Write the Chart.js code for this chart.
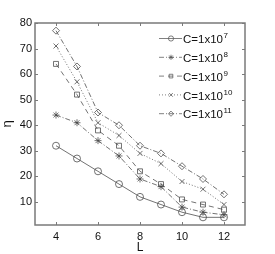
<!DOCTYPE html>
<html lang="en">
<head>
    <meta charset="UTF-8">
    <title>eta vs L</title>
    <script src="https://cdn.jsdelivr.net/npm/chart.js"></script>
    <style>
        html, body { margin: 0; padding: 0; background: #fff; }
        #wrap { width: 275px; height: 254px; }
    </style>
</head>
<body>
    <div id="wrap"><canvas id="myChart" width="275" height="254"></canvas></div>
    <script>
        // Données
        const L = [4, 5, 6, 7, 8, 9, 10, 11, 12];
        const c7  = [32, 27, 22, 17, 12, 9, 6, 4, 4];
        const c8  = [44, 41, 34, 28, 19, 16, 8, 6, 5];
        const c9  = [64, 52, 38, 32, 22, 17, 11, 9, 7];
        const c10 = [71, 57, 41, 36, 29, 25, 18, 15, 9];
        const c11 = [77, 63, 45, 40, 32, 29, 24, 19, 13];
        const exposants = ['7', '8', '9', '10', '11'];
        const xTicks = [4, 6, 8, 10, 12];
        const yTicks = [10, 20, 30, 40, 50, 60, 70, 80];

        const police = '"Liberation Sans", Arial, sans-serif';
        const series = [c7, c8, c9, c10, c11];
        const styles = [
            { point: 'circle',   dash: [] },
            { point: 'star',     dash: [5, 2, 1, 2] },
            { point: 'rect',     dash: [5, 4] },
            { point: 'crossRot', dash: [1, 2] },
            { point: 'rectRot',  dash: [5, 2, 1, 2] }
        ];

        const datasets = series.map(function(s, i) {
            return {
                label: 'C=1x10' + exposants[i],
                data: L.map(function(l, j) { return { x: l, y: s[j] }; }),
                borderColor: '#444',
                backgroundColor: 'rgba(0,0,0,0)',
                borderWidth: 0.75,
                borderDash: styles[i].dash,
                pointStyle: styles[i].point,
                pointRadius: 3.5,
                pointBorderWidth: 0.75,
                pointBorderColor: '#444',
                pointBackgroundColor: 'rgba(0,0,0,0)'
            };
        });

        // cadre, graduations internes et légende
        const cadre = {
            id: 'cadre',
            afterDraw(chart) {
                const ctx = chart.ctx;
                const a = chart.chartArea;
                const xs = chart.scales.x, ys = chart.scales.y;
                ctx.save();
                ctx.strokeStyle = '#7a7a7a';
                ctx.lineWidth = 1.5;
                ctx.setLineDash([]);
                ctx.strokeRect(a.left, a.top, a.right - a.left, a.bottom - a.top);
                ctx.lineWidth = 1;
                ctx.beginPath();
                xTicks.forEach(function(t) {
                    const px = Math.round(xs.getPixelForValue(t)) + 0.5;
                    ctx.moveTo(px, a.bottom); ctx.lineTo(px, a.bottom - 3);
                    ctx.moveTo(px, a.top); ctx.lineTo(px, a.top + 3);
                });
                yTicks.forEach(function(t) {
                    const py = Math.round(ys.getPixelForValue(t)) + 0.5;
                    ctx.moveTo(a.left, py); ctx.lineTo(a.left + 3, py);
                    ctx.moveTo(a.right, py); ctx.lineTo(a.right - 3, py);
                });
                ctx.stroke();

                // légende
                chart.data.datasets.forEach(function(ds, i) {
                    const y = 38.5 + i * 18.8;
                    ctx.strokeStyle = '#555';
                    ctx.lineWidth = ds.borderWidth;
                    ctx.setLineDash(ds.borderDash);
                    ctx.beginPath();
                    ctx.moveTo(159, y); ctx.lineTo(182, y);
                    ctx.stroke();
                    ctx.setLineDash([]);
                    ctx.fillStyle = 'rgba(0,0,0,0)';
                    Chart.helpers.drawPoint(ctx, {
                        pointStyle: ds.pointStyle, radius: 2.6, borderWidth: 0.7, rotation: 0
                    }, 171, y);
                    ctx.fillStyle = '#111';
                    ctx.font = '11.5px ' + police;
                    ctx.textBaseline = 'middle';
                    ctx.textAlign = 'left';
                    const base = 'C=1x10';
                    ctx.fillText(base, 183, y + 1.5);
                    const w = ctx.measureText(base).width;
                    ctx.font = '8px ' + police;
                    ctx.fillText(exposants[i], 183 + w + 0.5, y - 2.5);
                });
                ctx.restore();
            }
        };

        const ctx = document.getElementById('myChart').getContext('2d');
        const myChart = new Chart(ctx, {
            type: 'line',
            data: { datasets: datasets },
            options: {
                responsive: false,
                animation: false,
                layout: { padding: { top: 23, right: 30, left: 0, bottom: 0 } },
                plugins: { legend: { display: false }, tooltip: { enabled: false } },
                scales: {
                    x: {
                        type: 'linear',
                        min: 3, max: 13,
                        afterFit: function(s) { s.height = 29; },
                        afterBuildTicks: function(s) { s.ticks = xTicks.map(function(v) { return { value: v }; }); },
                        grid: { display: false, drawTicks: false },
                        border: { display: false },
                        ticks: { padding: 5, color: '#111', font: { family: police, size: 11 } },
                        title: { display: true, text: 'L', color: '#111', padding: { top: 0, bottom: -1 },
                                 font: { family: police, size: 12 } }
                    },
                    y: {
                        min: 1, max: 80,
                        afterFit: function(s) { s.width = 35; },
                        afterBuildTicks: function(s) { s.ticks = yTicks.map(function(v) { return { value: v }; }); },
                        grid: { display: false, drawTicks: false },
                        border: { display: false },
                        ticks: { padding: 3, color: '#111', font: { family: police, size: 11 } },
                        title: { display: true, text: 'η', color: '#111', padding: 0,
                                 font: { family: police, size: 13 } }
                    }
                }
            },
            plugins: [cadre]
        });
    </script>
</body>
</html>
